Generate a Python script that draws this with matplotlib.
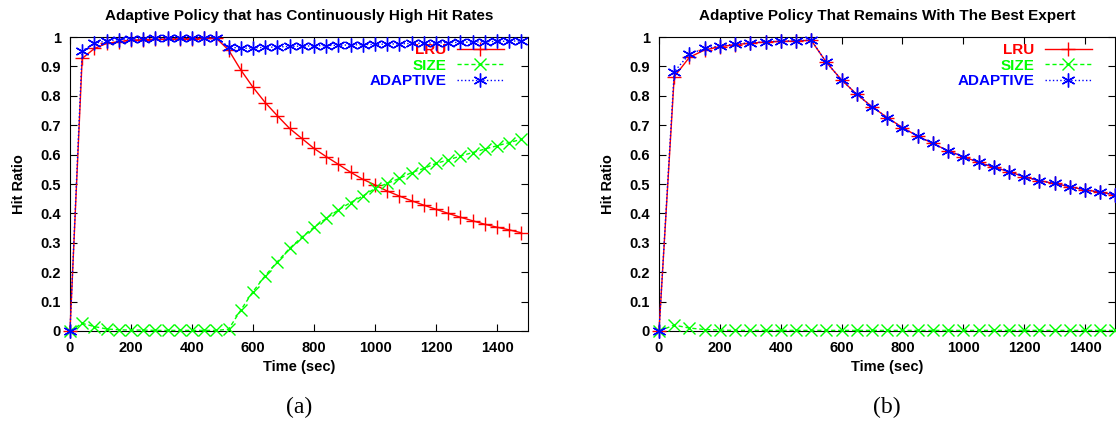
import numpy as np
import matplotlib.pyplot as plt

plt.rcParams.update({'font.family': ['Liberation Sans', 'DejaVu Sans'],
                     'font.weight': 'bold', 'font.size': 10})

# (a) sampled every 40 s
t_a = np.arange(0, 1481, 40)
lru_a = [0, 0.927, 0.961, 0.978, 0.984, 0.989, 0.991, 0.992, 0.993, 0.994,
         0.994, 0.995, 0.995, 0.956, 0.888, 0.829, 0.777, 0.732, 0.689, 0.655,
         0.621, 0.593, 0.567, 0.540, 0.516, 0.497, 0.476, 0.459, 0.443, 0.428,
         0.414, 0.400, 0.387, 0.375, 0.363, 0.353, 0.344, 0.334]
size_a = [0, 0.026, 0.015, 0.007, 0.004, 0.003, 0.003, 0.002, 0.002, 0.002,
          0.002, 0.002, 0.002, 0.006, 0.071, 0.134, 0.188, 0.236, 0.281, 0.319,
          0.353, 0.383, 0.412, 0.437, 0.459, 0.485, 0.502, 0.519, 0.539, 0.553,
          0.570, 0.582, 0.595, 0.607, 0.619, 0.630, 0.641, 0.652]
adapt_a = [0, 0.953, 0.978, 0.987, 0.991, 0.993, 0.994, 0.995, 0.996, 0.996,
           0.996, 0.997, 0.997, 0.967, 0.961, 0.963, 0.965, 0.966, 0.968, 0.969,
           0.970, 0.971, 0.972, 0.973, 0.974, 0.975, 0.976, 0.977, 0.978, 0.979,
           0.980, 0.981, 0.982, 0.983, 0.984, 0.985, 0.986, 0.987]

# (b) sampled every 50 s
t_b = np.arange(0, 1501, 50)
lru_b = [0, 0.865, 0.931, 0.956, 0.967, 0.974, 0.979, 0.983, 0.985, 0.986,
         0.989, 0.914, 0.854, 0.805, 0.763, 0.726, 0.692, 0.663, 0.638, 0.613,
         0.593, 0.574, 0.557, 0.542, 0.525, 0.511, 0.502, 0.491, 0.480, 0.472,
         0.463]
size_b = [0, 0.020, 0.010, 0.005, 0.003, 0.002, 0.002, 0.002, 0.002, 0.002,
          0.002, 0.002, 0.002, 0.002, 0.002, 0.002, 0.002, 0.002, 0.002, 0.002,
          0.002, 0.002, 0.002, 0.002, 0.002, 0.002, 0.002, 0.002, 0.002, 0.002,
          0.002]
adapt_b = [0, 0.882, 0.942, 0.961, 0.970, 0.976, 0.980, 0.984, 0.986, 0.987,
           0.990, 0.914, 0.854, 0.805, 0.763, 0.726, 0.692, 0.663, 0.638, 0.613,
           0.593, 0.574, 0.557, 0.542, 0.525, 0.511, 0.502, 0.491, 0.480, 0.472,
           0.463]

titles = ['Adaptive Policy that has Continuously High Hit Rates',
          'Adaptive Policy That Remains With The Best Expert']
captions = ['(a)', '(b)']

fig = plt.figure(figsize=(11.16, 4.23), dpi=100)
axes = [fig.add_axes([0.0627, 0.2175, 0.410, 0.695]),
        fig.add_axes([0.5905, 0.2175, 0.4090, 0.695])]

panels = [(t_a, lru_a, size_a, adapt_a), (t_b, lru_b, size_b, adapt_b)]
star = (6, 2, 0)

for ax, (t, lru, size, adapt), title, cap in zip(axes, panels, titles, captions):
    ax.plot(t, lru, color='#ff0000', ls='-', lw=1, marker='+', ms=10, mew=1,
            label='LRU', clip_on=False, zorder=3)
    ax.plot(t, size, color='#00ff00', ls='--', dashes=(3, 2), lw=1, marker='x',
            ms=8, mew=1, label='SIZE', clip_on=False, zorder=3)
    ax.plot(t, adapt, color='#0000ff', ls=':', lw=1, marker=star, ms=10, mew=1,
            label='ADAPTIVE', clip_on=False, zorder=3)
    ax.set_xlim(0, 1500)
    ax.set_ylim(0, 1)
    ax.set_xticks(np.arange(0, 1401, 200))
    ax.set_yticks(np.arange(0, 1.01, 0.1))
    ax.set_yticklabels(['0', '0.1', '0.2', '0.3', '0.4', '0.5', '0.6', '0.7',
                        '0.8', '0.9', '1'])
    ax.tick_params(direction='in', top=True, right=True, length=5, labelsize=10.5)
    ax.tick_params(axis='x', pad=7)
    ax.tick_params(axis='y', pad=6.5)
    for lab in ax.get_xticklabels() + ax.get_yticklabels():
        lab.set_fontweight('bold')
    ax.set_xlabel('Time (sec)', fontsize=10.5, fontweight='bold', labelpad=4)
    ax.set_ylabel('Hit Ratio', fontsize=10.5, fontweight='bold', labelpad=10)
    ax.set_title(title, fontsize=11, fontweight='bold', pad=12.5)
    leg = ax.legend(loc='upper right', bbox_to_anchor=(0.972, 1.015), frameon=False,
                    markerfirst=False, labelcolor='linecolor', handlelength=3.1,
                    labelspacing=0.1, borderpad=0.2, handletextpad=0.65,
                    prop={'weight': 'bold', 'size': 11})
    leg.set_zorder(2)
    for txt in leg.get_texts():
        txt.set_fontweight('bold')
    ax.text(0.5, -0.2585, cap, transform=ax.transAxes, ha='center', va='center',
            fontsize=17, fontweight='normal', family=['Liberation Serif'])

fig.savefig('out.png', dpi=100)
